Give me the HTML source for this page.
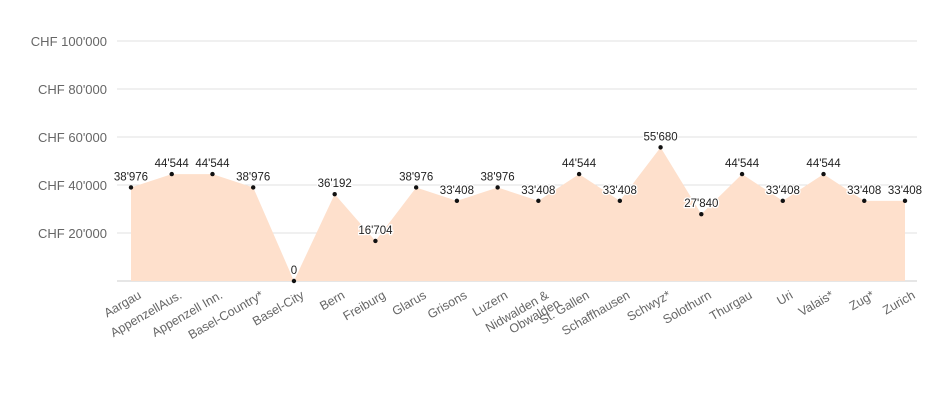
<!DOCTYPE html>
<html><head><meta charset="utf-8"><style>
body{margin:0;background:#fff;font-family:"Liberation Sans",sans-serif}
svg text{font-family:"Liberation Sans",sans-serif}
</style></head><body>
<svg id="chart" width="950" height="400"></svg>
<script>
const categories=["Aargau","AppenzellAus.","Appenzell Inn.","Basel-Country*","Basel-City","Bern","Freiburg","Glarus","Grisons","Luzern","Nidwalden &\nObwalden","St. Gallen","Schaffhausen","Schwyz*","Solothurn","Thurgau","Uri","Valais*","Zug*","Zurich"];
const values=[38976,44544,44544,38976,0,36192,16704,38976,33408,38976,33408,44544,33408,55680,27840,44544,33408,44544,33408,33408];
const yTicks=[0,20000,40000,60000,80000,100000];
const yTickLabels=["","CHF 20'000","CHF 40'000","CHF 60'000","CHF 80'000","CHF 100'000"];
const NS="http://www.w3.org/2000/svg";
const svg=document.getElementById("chart");
const x=i=>131+i*(905-131)/(categories.length-1);
const y=v=>281-v*(240/100000);
const fmt=v=>{const s=String(v);return s.length>3?s.slice(0,-3)+"'"+s.slice(-3):s;};
function mk(t,a){const e=document.createElementNS(NS,t);for(const k in a)e.setAttribute(k,a[k]);svg.appendChild(e);return e;}
yTicks.forEach((t,i)=>{
 const l=mk("line",{x1:117,x2:917,y1:y(t),y2:y(t),stroke:i==0?"#ccc":"#e0e0e0","stroke-width":1});
 
 
 if(yTickLabels[i]){const tx=mk("text",{x:107,y:y(t)+5,"text-anchor":"end","font-size":13,fill:"#666"});tx.textContent=yTickLabels[i];
 
 }
});
let d="M"+x(0)+","+y(0);
values.forEach((v,i)=>d+=" L"+x(i)+","+y(v));
d+=" L"+x(values.length-1)+","+y(0)+" Z";
const area=mk("path",{d:d,fill:"#fee0cc"});


values.forEach((v,i)=>{
 const c=mk("circle",{cx:x(i),cy:y(v),r:2.2,fill:"#111"});
 
 
 const t=mk("text",{x:x(i),y:y(v)-7,"text-anchor":"middle","font-size":11.5,fill:"#222",stroke:"#fff","stroke-width":2.5,"paint-order":"stroke"});
 t.textContent=fmt(v);
 
 
});
categories.forEach((c,i)=>{
 const g=mk("text",{transform:"translate("+(x(i)+9)+",294) rotate(-30)","text-anchor":"end","font-size":12.5,fill:"#666"});
 const lines=c.split("\n");
 lines.forEach((ln,j)=>{const ts=document.createElementNS(NS,"tspan");ts.setAttribute("x",j*6);ts.setAttribute("y",4+j*13);ts.textContent=ln;g.appendChild(ts);});
 
 
});
</script>
</body></html>
